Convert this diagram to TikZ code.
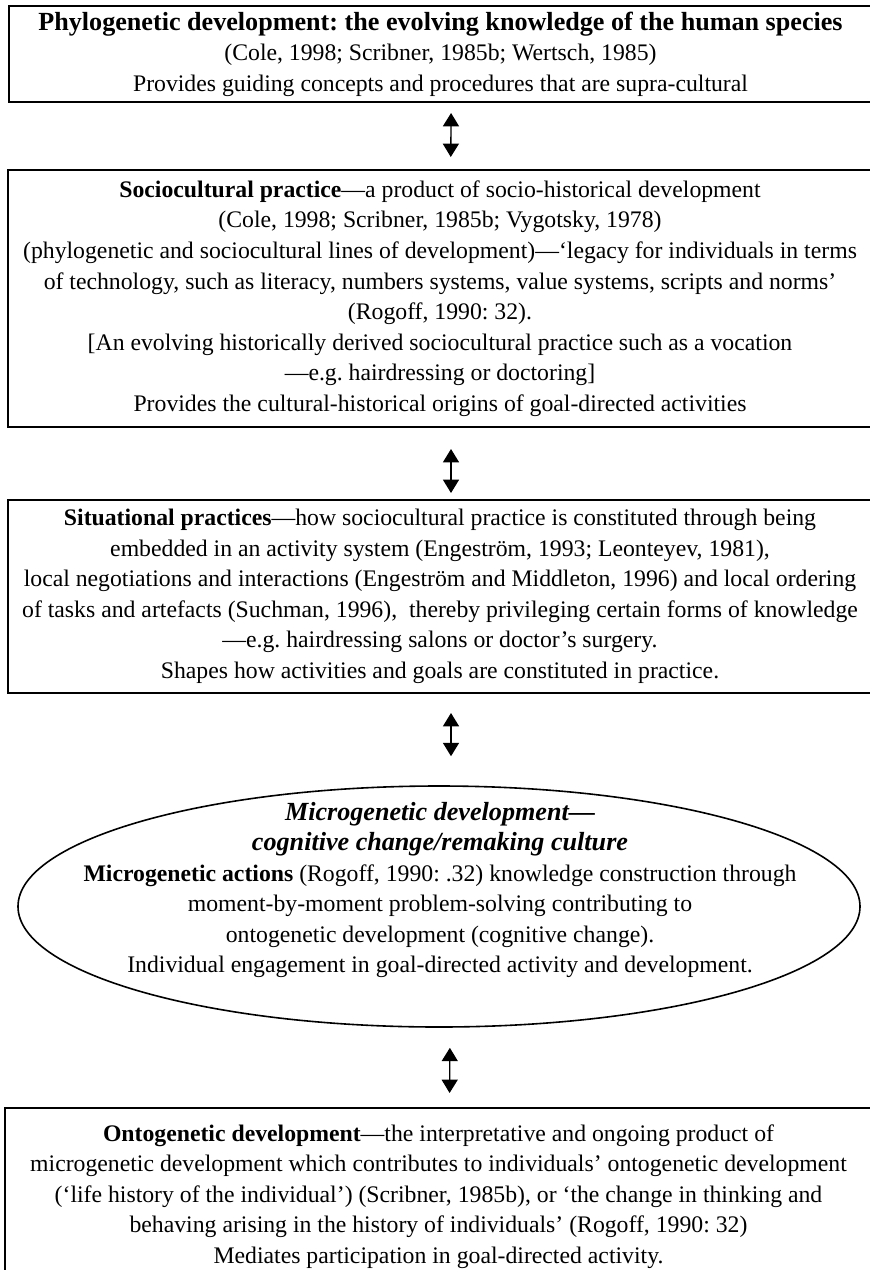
\documentclass[tikz,border=0pt]{standalone}
\usepackage{fontspec}
\setmainfont{Liberation Serif}
\usetikzlibrary{shapes,arrows.meta,positioning,calc}
\newcommand{\stagefont}{\fontsize{17.8}{22.9}\selectfont\frenchspacing}
\newcommand{\headfont}{\fontsize{19.6}{22.9}\selectfont}

\begin{document}
\begin{tikzpicture}[
    x=0.75pt, y=-0.75pt,
    stage/.style={rectangle, draw=black, line width=1.5pt, align=center,
        font=\stagefont, inner sep=0pt, minimum width=648pt},
    micro/.style={ellipse, draw=black, line width=1.2pt, inner sep=0pt,
        minimum width=631.5pt, minimum height=180.75pt},
    lbl/.style={align=center, font=\stagefont, inner sep=0pt},
    arr/.style={{Triangle[width=12pt,length=10pt]}-{Triangle[width=12pt,length=10pt]}, line width=1pt}
]
    \useasboundingbox (0,0) rectangle (870,1270);
    \clip (0,0) rectangle (870,1270);

    \node[stage, minimum height=72pt] (phylo) at (440.5,54) {%
        {\headfont\textbf{Phylogenetic development: the evolving knowledge of the human species}}\\
        (Cole, 1998; Scribner, 1985b; Wertsch, 1985)\\
        Provides guiding concepts and procedures that are supra-cultural};

    \node[stage, minimum height=192.75pt] (socio) at (440,298.5) {%
        \textbf{Sociocultural practice}—a product of socio-historical development\\
        (Cole, 1998; Scribner, 1985b; Vygotsky, 1978)\\
        (phylogenetic and sociocultural lines of development)—‘legacy for individuals in terms\\
        of technology, such as literacy, numbers systems, value systems, scripts and norms’\\
        (Rogoff, 1990: 32).\\
        {[}An evolving historically derived sociocultural practice such as a vocation\\
        —e.g. hairdressing or doctoring{]}\\
        Provides the cultural-historical origins of goal-directed activities};

    \node[stage, minimum height=144.75pt] (situ) at (440,596.5) {%
        \textbf{Situational practices}—how sociocultural practice is constituted through being\\
        embedded in an activity system (Engeström, 1993; Leonteyev, 1981),\\
        local negotiations and interactions (Engeström and Middleton, 1996) and local ordering\\
        of tasks and artefacts (Suchman, 1996),\ \ thereby privileging certain forms of knowledge\\
        —e.g. hairdressing salons or doctor’s surgery.\\
        Shapes how activities and goals are constituted in practice.};

    \node[micro] (mgen) at (439,906.5) {};
    \node[lbl] (mgentxt) at (440,890) {%
        {\headfont\textbf{\textit{Microgenetic development—}}}\\
        {\headfont\textbf{\textit{cognitive change/remaking culture}}}\\
        \textbf{Microgenetic actions} (Rogoff, 1990: .32) knowledge construction through\\
        moment-by-moment problem-solving contributing to\\
        ontogenetic development (cognitive change).\\
        Individual engagement in goal-directed activity and development.};

    \node[stage, minimum height=132.75pt, minimum width=650pt] (onto) at (438.5,1196.5) {%
        \textbf{Ontogenetic development}—the interpretative and ongoing product of\\
        microgenetic development which contributes to individuals’ ontogenetic development\\
        (‘life history of the individual’) (Scribner, 1985b), or ‘the change in thinking and\\
        behaving arising in the history of individuals’ (Rogoff, 1990: 32)\\
        Mediates participation in goal-directed activity.};

    % two-way links between the levels
    \draw[arr, shorten <=7.5pt, shorten >=9pt] ([xshift=8pt]phylo.south) -- ([xshift=8pt]socio.north);
    \draw[arr, shorten <=15.75pt, shorten >=4.5pt] ([xshift=8.25pt]socio.south) -- ([xshift=8.25pt]situ.north);
    \draw[arr, shorten <=14.25pt, shorten >=21.75pt] ([xshift=8.25pt]situ.south) -- ([xshift=9pt]mgen.north);
    \draw[arr, shorten <=15pt, shorten >=10.5pt] ([xshift=8.25pt]mgen.south) -- ([xshift=8.25pt]onto.north);
\end{tikzpicture}
\end{document}
